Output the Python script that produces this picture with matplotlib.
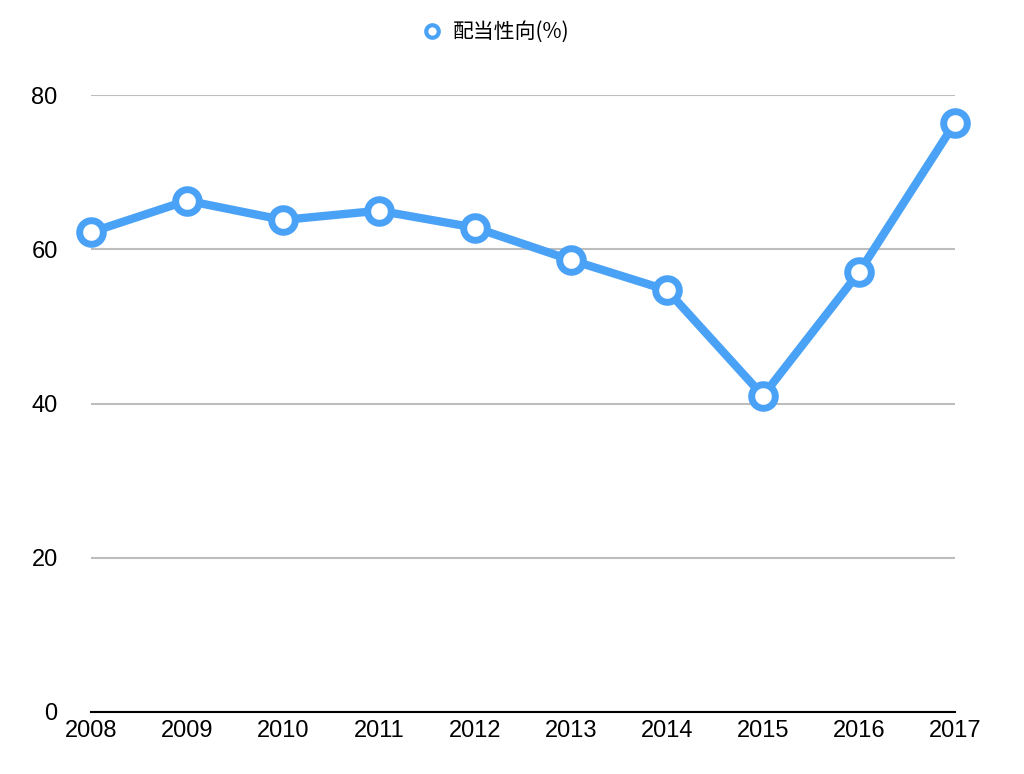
import matplotlib
matplotlib.use("Agg")
import matplotlib.pyplot as plt
from matplotlib.lines import Line2D

years = ["2008","2009","2010","2011","2012","2013","2014","2015","2016","2017"]
payout = [62.2, 66.3, 63.8, 65.0, 62.8, 58.6, 54.7, 41.0, 57.0, 76.4]
yticks = [0, 20, 40, 60, 80]

plt.rcParams['font.family'] = ['Liberation Sans', 'Noto Sans CJK JP', 'DejaVu Sans']
fig = plt.figure(figsize=(10.24, 7.74), dpi=100)
ax = fig.add_axes([91/1024, 1-712/774, (955-91)/1024, (712-95)/774])
color = "#4aa2f7"
x = list(range(len(years)))
ax.plot(x, payout, color=color, lw=6, marker='o', ms=17, mfc='white',
        mec=color, mew=5, clip_on=False, zorder=3)
ax.set_xlim(0, len(years)-1)
ax.set_ylim(0, 80)
ax.set_yticks(yticks)
ax.set_xticks(x)
ax.set_xticklabels(years)
ax.grid(axis='y', color='#bdbdbd', lw=1.5)
ax.set_axisbelow(True)
for s in ['top', 'right', 'left']:
    ax.spines[s].set_visible(False)
ax.spines['bottom'].set_color('black')
ax.spines['bottom'].set_linewidth(1.5)
ax.tick_params(axis='both', length=0, labelsize=17, colors='black')
ax.tick_params(axis='y', pad=24)
ax.tick_params(axis='x', pad=6)
handle = Line2D([], [], ls='none', marker='o', ms=9, mfc='white', mec=color, mew=3)
fig.legend([handle], ["配当性向(%)"], loc='center', bbox_to_anchor=(0.485, 1-32/774),
           frameon=False, fontsize=15, handlelength=0.8, handletextpad=0.6,
           prop={'family': ['Noto Sans CJK JP', 'DejaVu Sans'], 'size': 15})
fig.savefig("out.png", dpi=100)
